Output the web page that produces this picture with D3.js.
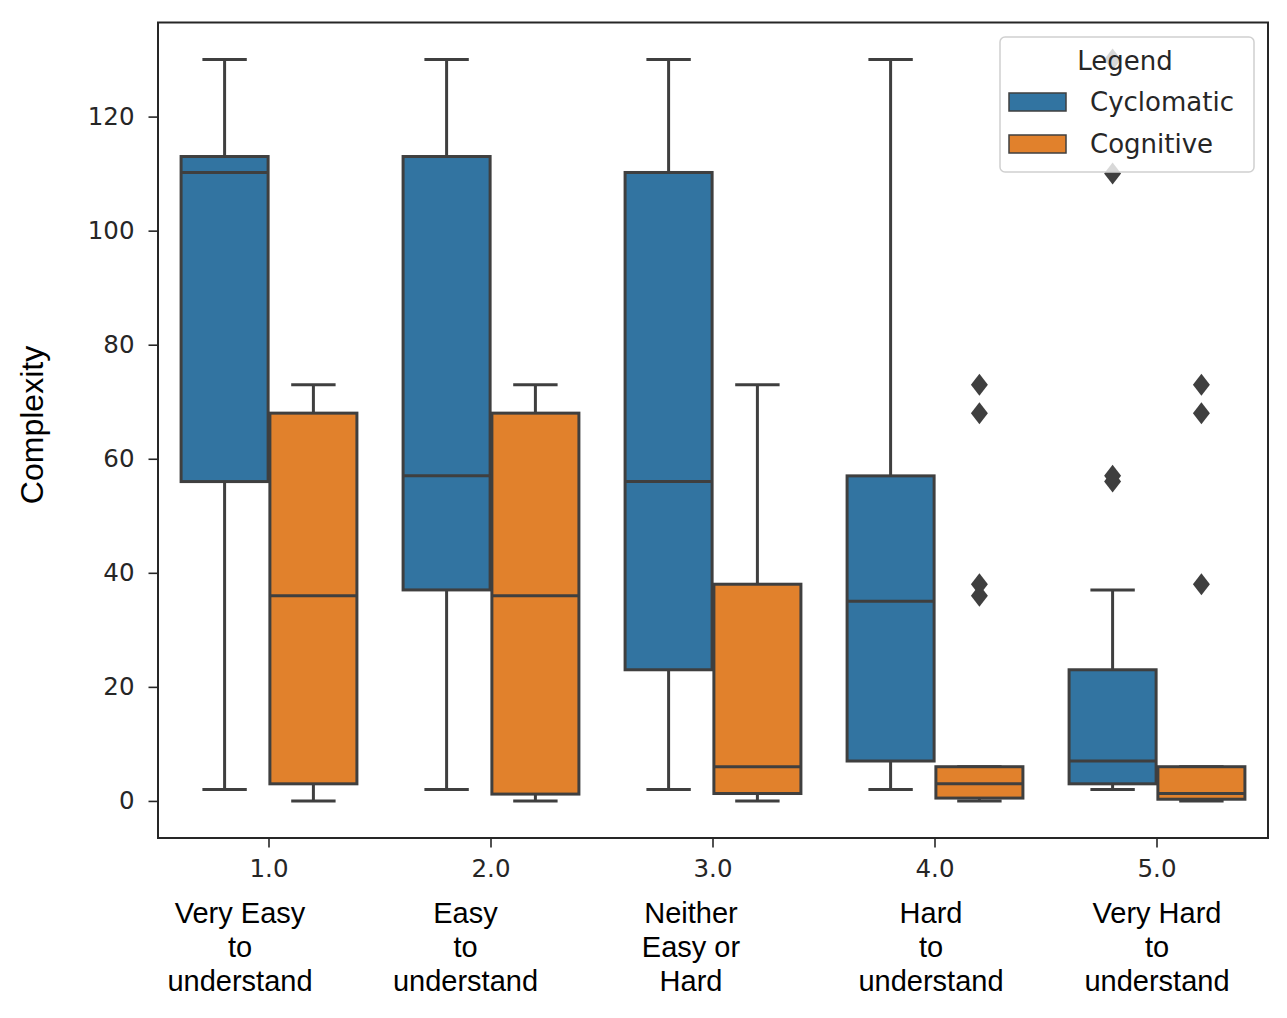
<!DOCTYPE html>
<html>
<head>
<meta charset="utf-8">
<script src="https://cdn.jsdelivr.net/npm/d3@7"></script>
<style>
  html, body { margin: 0; padding: 0; background: #fff; }
  svg { display: block; }
</style>
</head>
<body>
<svg id="chart" width="1287" height="1018"></svg>
<script>
// ---------- DATA ----------
const categories = ["1.0", "2.0", "3.0", "4.0", "5.0"];
const categoryLabels = [
  ["Very Easy", "to", "understand"],
  ["Easy", "to", "understand"],
  ["Neither", "Easy or", "Hard"],
  ["Hard", "to", "understand"],
  ["Very Hard", "to", "understand"]
];
const series = ["Cyclomatic", "Cognitive"];
const yTicks = [0, 20, 40, 60, 80, 100, 120];

// box statistics per category: [whiskerLow, q1, median, q3, whiskerHigh]
const cyclomaticStats = [
  [2, 56, 110.2, 113, 130],
  [2, 37, 57, 113, 130],
  [2, 23, 56, 110.2, 130],
  [2, 7, 35, 57, 130],
  [2, 3, 7, 23, 37]
];
const cognitiveStats = [
  [0, 3, 36, 68, 73],
  [0, 1.2, 36, 68, 73],
  [0, 1.3, 6, 38, 73],
  [0, 0.5, 3, 6, 6],
  [0, 0.3, 1.3, 6, 6]
];
const cyclomaticOutliers = [[], [], [], [], [56, 57, 110, 130]];
const cognitiveOutliers = [[], [], [], [73, 68, 38, 36], [73, 68, 38]];

// ---------- LAYOUT / STYLE ----------
const colors = { Cyclomatic: "#3274a1", Cognitive: "#e1812c" };
const lineColor = "#3f3f3f";
const textColor = "#262626";
const plot = { left: 158, right: 1268, top: 22.5, bottom: 838 };
const labelShift = [-29, -25.5, -22, -4, 0];

const svg = d3.select("#chart");

const x = d3.scaleBand().domain(categories).range([plot.left, plot.right]).padding(0);
const hue = d3.scaleBand().domain(series).range([-0.4 * x.bandwidth(), 0.4 * x.bandwidth()]);
const y = d3.scaleLinear().domain([-6.5, 136.5]).range([plot.bottom, plot.top]);

const boxW = hue.bandwidth() * 0.98;
const capW = hue.bandwidth() * 0.5;

const statsBySeries = { Cyclomatic: cyclomaticStats, Cognitive: cognitiveStats };
const outliersBySeries = { Cyclomatic: cyclomaticOutliers, Cognitive: cognitiveOutliers };

const boxes = [];
categories.forEach((c, i) => {
  series.forEach(s => {
    const st = statsBySeries[s][i];
    boxes.push({
      cat: c, series: s,
      lo: st[0], q1: st[1], med: st[2], q3: st[3], hi: st[4],
      out: outliersBySeries[s][i],
      cx: x(c) + x.bandwidth() / 2 + hue(s) + hue.bandwidth() / 2
    });
  });
});

const g = svg.append("g");
const lw = 3;

const bg = g.selectAll("g.box").data(boxes).join("g").attr("class", "box");

// whiskers
bg.append("line")
  .attr("x1", d => d.cx).attr("x2", d => d.cx)
  .attr("y1", d => y(d.q3)).attr("y2", d => y(d.hi))
  .attr("stroke", lineColor).attr("stroke-width", lw);
bg.append("line")
  .attr("x1", d => d.cx).attr("x2", d => d.cx)
  .attr("y1", d => y(d.q1)).attr("y2", d => y(d.lo))
  .attr("stroke", lineColor).attr("stroke-width", lw);
// caps
bg.append("line")
  .attr("x1", d => d.cx - capW / 2).attr("x2", d => d.cx + capW / 2)
  .attr("y1", d => y(d.hi)).attr("y2", d => y(d.hi))
  .attr("stroke", lineColor).attr("stroke-width", lw);
bg.append("line")
  .attr("x1", d => d.cx - capW / 2).attr("x2", d => d.cx + capW / 2)
  .attr("y1", d => y(d.lo)).attr("y2", d => y(d.lo))
  .attr("stroke", lineColor).attr("stroke-width", lw);
// box
bg.append("rect")
  .attr("x", d => d.cx - boxW / 2).attr("width", boxW)
  .attr("y", d => y(d.q3)).attr("height", d => y(d.q1) - y(d.q3))
  .attr("fill", d => colors[d.series])
  .attr("stroke", lineColor).attr("stroke-width", lw);
// median
bg.append("line")
  .attr("x1", d => d.cx - boxW / 2).attr("x2", d => d.cx + boxW / 2)
  .attr("y1", d => y(d.med)).attr("y2", d => y(d.med))
  .attr("stroke", lineColor).attr("stroke-width", lw);
// outliers (diamonds)
const diamond = "M0,-11L8.5,0L0,11L-8.5,0Z";
bg.each(function(d) {
  d3.select(this).selectAll("path.flier").data(d.out).join("path")
    .attr("class", "flier")
    .attr("d", diamond)
    .attr("transform", v => `translate(${d.cx},${y(v)})`)
    .attr("fill", lineColor);
});

// ---------- AXES ----------
const yAxis = d3.axisLeft(y).tickValues(yTicks).tickSize(9.5).tickPadding(14);
const yg = svg.append("g").attr("transform", `translate(${plot.left},0)`).call(yAxis);
yg.select(".domain").remove();
yg.selectAll(".tick line").attr("stroke", textColor).attr("stroke-width", 1.6);
yg.selectAll(".tick text")
  .attr("fill", textColor)
  .style("font-family", "'DejaVu Sans', sans-serif")
  .style("font-size", "24.5px");

const xAxis = d3.axisBottom(x).tickSize(9.5).tickPadding(12);
const xg = svg.append("g").attr("transform", `translate(0,${plot.bottom})`).call(xAxis);
xg.select(".domain").remove();
xg.selectAll(".tick line").attr("stroke", textColor).attr("stroke-width", 1.6);
xg.selectAll(".tick text")
  .attr("fill", textColor)
  .style("font-family", "'DejaVu Sans', sans-serif")
  .style("font-size", "24.5px");

// frame
svg.append("rect")
  .attr("x", plot.left).attr("y", plot.top)
  .attr("width", plot.right - plot.left).attr("height", plot.bottom - plot.top)
  .attr("fill", "none").attr("stroke", textColor).attr("stroke-width", 2);

// category annotation labels
const lineBaselines = [923, 957, 991];
categories.forEach((c, i) => {
  const cx = x(c) + x.bandwidth() / 2 + labelShift[i];
  categoryLabels[i].forEach((t, j) => {
    svg.append("text")
      .attr("x", cx).attr("y", lineBaselines[j])
      .attr("text-anchor", "middle")
      .style("font-family", "'Liberation Sans', Arial, sans-serif")
      .style("font-size", "29px")
      .attr("fill", "#000")
      .text(t);
  });
});

// y label
svg.append("text")
  .attr("transform", "translate(43,425) rotate(-90)")
  .attr("text-anchor", "middle")
  .style("font-family", "'Liberation Sans', Arial, sans-serif")
  .style("font-size", "32px")
  .attr("fill", "#000")
  .text("Complexity");

// ---------- LEGEND ----------
const lg = svg.append("g");
lg.append("rect")
  .attr("x", 1000).attr("y", 37).attr("width", 254).attr("height", 135)
  .attr("rx", 5).attr("fill", "#fff").attr("fill-opacity", 0.8)
  .attr("stroke", "#d0d0d0").attr("stroke-width", 1.5);
lg.append("text")
  .attr("x", 1125).attr("y", 70).attr("text-anchor", "middle")
  .style("font-family", "'DejaVu Sans', sans-serif").style("font-size", "26px")
  .attr("fill", textColor).text("Legend");
const legY = d3.scalePoint().domain(series).range([93, 135]);
series.forEach(s => {
  lg.append("rect")
    .attr("x", 1009).attr("y", legY(s)).attr("width", 57).attr("height", 18)
    .attr("fill", colors[s]).attr("stroke", lineColor).attr("stroke-width", 1.5);
  lg.append("text")
    .attr("x", 1090).attr("y", legY(s) + 17.5)
    .style("font-family", "'DejaVu Sans', sans-serif").style("font-size", "26px")
    .attr("fill", textColor).text(s);
});
</script>
</body>
</html>
